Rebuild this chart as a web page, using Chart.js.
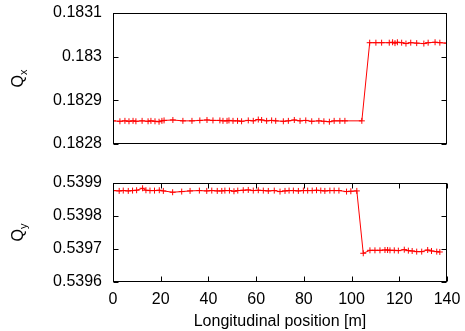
<!DOCTYPE html>
<html>
<head>
<meta charset="utf-8">
<script src="https://cdn.jsdelivr.net/npm/chart.js@4/dist/chart.umd.min.js"></script>
<style>
  body { margin:0; background:#fff; }
  #wrap { position:relative; width:465px; height:331px; }
  canvas { position:absolute; left:0; }
</style>
</head>
<body>
<div id="wrap">
  <canvas id="qx" width="465" height="150" style="top:0"></canvas>
  <canvas id="qy" width="465" height="181" style="top:150px"></canvas>
</div>
<script>
// longitudinal positions [m] and tunes
var qxPos = [0, 2.9, 5, 6.7, 8.4, 9.6, 12.2, 14.7, 15.9, 17.6, 19.3, 20.5, 21.4, 25.1, 29.3, 33.1, 36.4, 39.4, 41.9, 44.8, 46.1, 47.8, 48.6, 50.3, 52.2, 53.9, 56.7, 58.8, 60.9, 62.3, 64.4, 66.5, 68.2, 71.4, 73.5, 76, 78.4, 80.8, 83.3, 86.3, 88.4, 90.7, 92.7, 95.1, 97.2, 104.3,
             107.6, 110.2, 112.6, 115.8, 117.2, 118.2, 119.2, 121, 122.8, 124.8, 127.3, 130.3, 132.1, 135, 137, 139.8];
var qxVal = [0.182853, 0.182852, 0.182853, 0.182852, 0.182853, 0.182852, 0.182853, 0.182852, 0.182853, 0.182852, 0.182851, 0.182853, 0.182854, 0.182855, 0.182853, 0.182853, 0.182854, 0.182855, 0.182854, 0.182854, 0.182853, 0.182853, 0.182854, 0.182853, 0.182853, 0.182852, 0.182854, 0.182853, 0.182856, 0.182855, 0.182853, 0.182854, 0.182853, 0.182852, 0.182853, 0.182855, 0.182853, 0.182854, 0.182852, 0.182853, 0.182852, 0.182851, 0.182853, 0.182853, 0.182853, 0.182853,
             0.183032, 0.183032, 0.183032, 0.183032, 0.183033, 0.183031, 0.183033, 0.183032, 0.183030, 0.183032, 0.183031, 0.183030, 0.183032, 0.183033, 0.183032, 0.183031];

var qyPos = [0.1, 2.6, 4.3, 6.4, 8.2, 9.9, 12.4, 13.8, 15.5, 17.4, 19.4, 21.1, 25, 28.8, 32.3, 36.2, 39.3, 41.4, 43.7, 45.6, 46.9, 48.8, 50.7, 52.3, 54.6, 56.7, 58.8, 60.9, 63, 65.1, 67.6, 70, 72.1, 73.8, 75.6, 77.7, 79.8, 81.6, 83.5, 85.3, 87.1, 88.8, 90.9, 92.7, 94.7, 97.9, 99.7, 102.2,
             104.9, 107.7, 109.8, 111.9, 114, 115.1, 116.1, 117.9, 119.6, 122.1, 123.8, 125.4, 127.3, 129.4, 131.9, 133.5, 135.7, 137];
var qyVal = [0.539877, 0.539876, 0.539877, 0.539876, 0.539877, 0.539878, 0.539884, 0.539878, 0.539877, 0.539877, 0.539878, 0.539876, 0.539872, 0.539874, 0.539876, 0.539877, 0.539876, 0.539877, 0.539876, 0.539876, 0.539877, 0.539877, 0.539875, 0.539877, 0.539878, 0.539879, 0.539877, 0.539878, 0.539877, 0.539876, 0.539877, 0.539874, 0.539876, 0.539877, 0.539877, 0.539876, 0.539877, 0.539877, 0.539877, 0.539878, 0.539877, 0.539876, 0.539877, 0.539877, 0.539877, 0.539874, 0.539875, 0.539876,
             0.539687, 0.539696, 0.539696, 0.539696, 0.539697, 0.539697, 0.539696, 0.539696, 0.539695, 0.539698, 0.539695, 0.539694, 0.539692, 0.539692, 0.539697, 0.539694, 0.539692, 0.539691];

var xTicks = [0, 20, 40, 60, 80, 100, 120, 140];
var qxTicks = [0.1828, 0.1829, 0.1830, 0.1831];
var qyTicks = [0.5396, 0.5397, 0.5398, 0.5399];

var FONT = "'Liberation Sans', Arial, sans-serif";
Chart.defaults.font.family = FONT;
Chart.defaults.font.size = 16;
Chart.defaults.color = '#000';

function toPoints(xs, ys){
  var pts = [];
  for(var i=0; i<xs.length; i++) pts.push({x: xs[i], y: ys[i]});
  return pts;
}

// gnuplot-like frame: box, inward ticks, y title with subscript
var framePlugin = {
  id: 'frame',
  afterDraw: function(chart, args, opts){
    var ctx = chart.ctx, a = chart.chartArea, sx = chart.scales.x, sy = chart.scales.y;
    var L = Math.round(a.left)+0.5, R = Math.round(a.right)-0.5,
        T = Math.round(a.top)+0.5, B = Math.round(a.bottom)-0.5;
    ctx.save();
    ctx.strokeStyle = '#000';
    ctx.lineWidth = 1;
    ctx.beginPath();
    opts.yTicks.forEach(function(v){
      var y = Math.round(sy.getPixelForValue(v))+0.5;
      ctx.moveTo(L, y); ctx.lineTo(L+5, y);
      ctx.moveTo(R, y); ctx.lineTo(R-5, y);
    });
    if(opts.xTicks){
      opts.xTicks.forEach(function(v){
        var x = Math.round(sx.getPixelForValue(v))+0.5;
        ctx.moveTo(x, B); ctx.lineTo(x, B-5);
        ctx.moveTo(x, T); ctx.lineTo(x, T+5);
      });
    }
    ctx.stroke();
    ctx.strokeRect(L, T, R-L, B-T);

    // rotated axis title
    ctx.translate(19, (a.top+a.bottom)/2);
    ctx.rotate(-Math.PI/2);
    ctx.fillStyle = '#000';
    ctx.textBaseline = 'middle';
    ctx.font = '16px ' + FONT;
    var w1 = ctx.measureText(opts.label).width;
    ctx.font = '11px ' + FONT;
    var w2 = ctx.measureText(opts.sub).width;
    var x0 = -(w1+w2)/2;
    ctx.font = '16px ' + FONT;
    ctx.fillText(opts.label, x0, 0);
    ctx.font = '11px ' + FONT;
    ctx.fillText(opts.sub, x0+w1, 5);
    ctx.restore();
  }
};

function tickLabel(v){ return parseFloat(v.toFixed(4)).toString(); }

function makeChart(id, pts, yMin, yMax, yTicks, bottomAxis, pad){
  return new Chart(document.getElementById(id), {
    type: 'line',
    data: {
      datasets: [{
        data: pts,
        borderColor: '#ff0000',
        borderWidth: 1,
        pointStyle: 'cross',
        pointRadius: 3,
        pointBorderColor: '#ff0000',
        pointBorderWidth: 1,
        tension: 0,
        fill: false
      }]
    },
    options: {
      responsive: false,
      animation: false,
      events: [],
      layout: { padding: pad },
      plugins: {
        legend: { display: false },
        tooltip: { enabled: false },
        frame: { yTicks: yTicks, xTicks: bottomAxis ? xTicks : null, label: 'Q', sub: id === 'qx' ? 'x' : 'y' }
      },
      scales: {
        x: {
          type: 'linear', min: 0, max: 140,
          grid: { display: false, drawTicks: false },
          border: { display: false },
          afterBuildTicks: function(s){ s.ticks = xTicks.map(function(v){ return {value: v}; }); },
          afterFit: function(s){ s.height = bottomAxis ? 49 : 6; s.paddingLeft = 0; s.paddingRight = 0; },
          ticks: { display: bottomAxis, padding: 8, maxRotation: 0 },
          title: { display: bottomAxis, text: 'Longitudinal position [m]', padding: {top: 0, bottom: 0}, font: {size: 16} }
        },
        y: {
          min: yMin, max: yMax,
          grid: { display: false, drawTicks: false },
          border: { display: false },
          afterBuildTicks: function(s){ s.ticks = yTicks.map(function(v){ return {value: v}; }); },
          afterFit: function(s){ s.width = 113; s.paddingTop = 0; s.paddingBottom = 0; },
          ticks: { padding: 11, callback: tickLabel }
        }
      }
    },
    plugins: [framePlugin]
  });
}

makeChart('qx', toPoints(qxPos, qxVal), 0.1828, 0.1831, qxTicks, false, {top: 13, right: 18, bottom: 0, left: 0});
makeChart('qy', toPoints(qyPos, qyVal), 0.5396, 0.5399, qyTicks, true, {top: 33, right: 18, bottom: 0, left: 0});
</script>
</body>
</html>
